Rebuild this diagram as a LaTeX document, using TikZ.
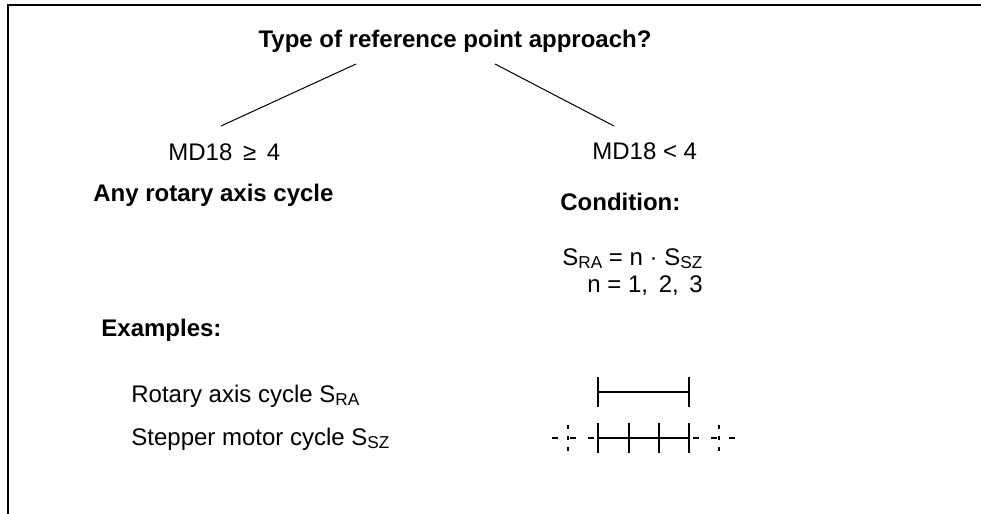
\documentclass[tikz,border=0pt]{standalone}
\usepackage{fontspec}
\setmainfont{Liberation Sans}
\newcommand{\idx}[1]{\raisebox{-0.3ex}{\fontsize{8.6}{10}\selectfont #1}}

\begin{document}
\begin{tikzpicture}[x=0.5pt,y=-0.5pt,
    txt/.style={inner sep=0pt, anchor=base west, font=\fontsize{12}{14}\selectfont},
    head/.style={txt, font=\fontsize{12}{14}\selectfont\bfseries},
    branch/.style={line width=0.5pt},
    bar/.style={line width=1pt},
    ghost/.style={line width=0.7pt, dash pattern=on 3pt off 6pt}]
        \useasboundingbox (0,0) rectangle (981,514);

        % Draw frame (top and left edge only)
        \draw[bar] (981,4.5) -- (8,4.5) -- (8,514);

        % Draw question and branches
        \node[head, anchor=base] (quest) at (455,47) {Type of reference point approach?};
        \node[txt] (geq) at (168,160) {MD18 \,≥\, 4};
        \node[txt] (less) at (592,159) {MD18 < 4};
        \coordinate (quest-l) at (356,64);
        \coordinate (quest-r) at (495,64);
        \coordinate (geq-top) at (221,126);
        \coordinate (less-top) at (614,126);
        \draw[branch] (quest-l) -- (geq-top);
        \draw[branch] (quest-r) -- (less-top);

        % Draw left column
        \node[head] (anycyc) at (93,201) {Any rotary axis cycle};
        \node[head] (examples) at (101,336) {Examples:};
        \node[txt] (racyc) at (131,402) {Rotary axis cycle S\idx{RA}};
        \node[txt] (szcyc) at (131,445) {Stepper motor cycle S\idx{SZ}};

        % Draw right column
        \node[head] (cond) at (560,210) {Condition:};
        \node[txt] (ratio) at (562,265) {S\idx{RA} = n · S\idx{SZ}};
        \node[txt] (nval) at (587,292) {n = 1,\hspace{2pt} 2,\hspace{2pt} 3};

        % Draw rotary axis cycle bar
        \draw[bar] (598,392) -- (689,392);
        \draw[bar] (598,377) -- (598,407);
        \draw[bar] (689,377) -- (689,407);

        % Draw stepper motor cycle bar
        \draw[bar] (598,438) -- (689,438);
        \foreach \x in {598,629,659,689}
            \draw[bar] (\x,423) -- (\x,453);
        \draw[ghost] (594,438) -- (552,438);
        \draw[ghost] (693,438) -- (735,438);
        \draw[ghost, dash pattern=on 2pt off 3.5pt] (568,425) -- (568,453);
        \draw[ghost, dash pattern=on 2pt off 3.5pt] (719,425) -- (719,453);
\end{tikzpicture}
\end{document}
